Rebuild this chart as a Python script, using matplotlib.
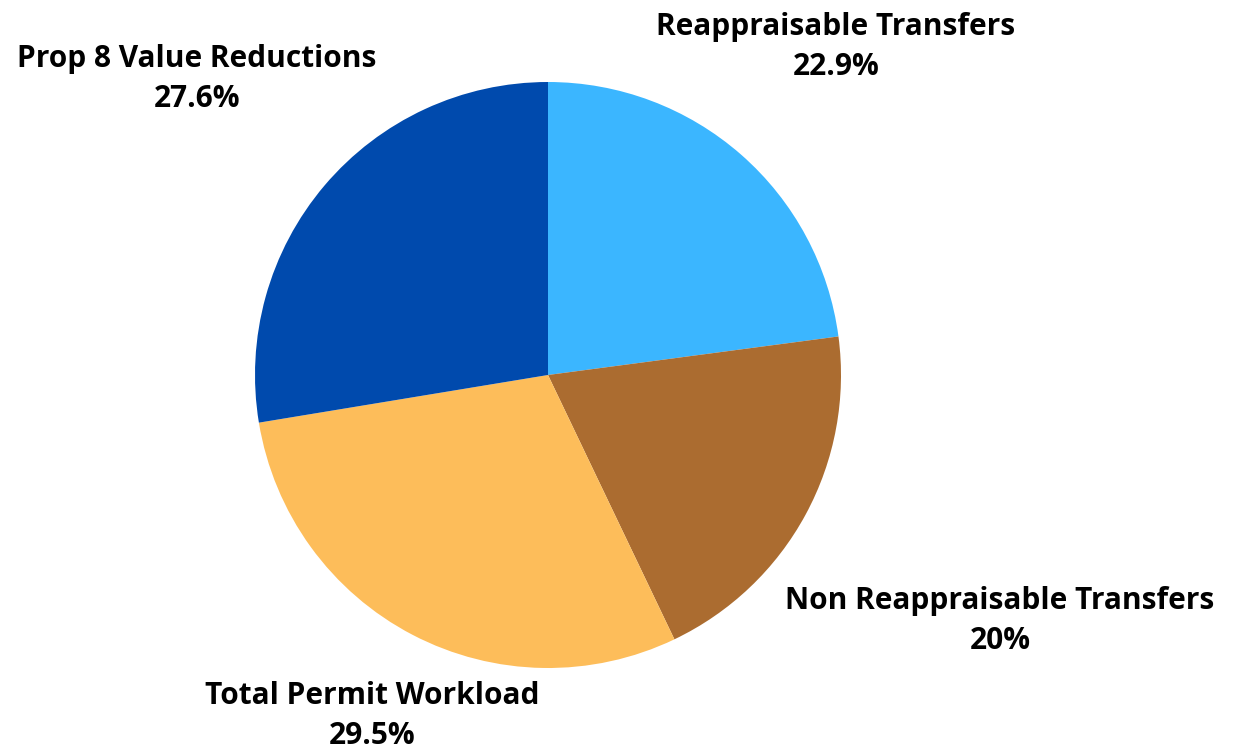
import matplotlib.pyplot as plt

categories = ['Reappraisable Transfers', 'Non Reappraisable Transfers',
              'Total Permit Workload', 'Prop 8 Value Reductions']
values = [22.9, 20.0, 29.5, 27.6]
pct_labels = ['22.9%', '20%', '29.5%', '27.6%']
colors = ['#3bb6ff', '#ab6c30', '#fdbd5a', '#004aad']

plt.rcParams['font.family'] = ['Open Sans', 'DejaVu Sans']

fig = plt.figure(figsize=(12.44, 7.52), dpi=100)
# pie centre ~ (548, 375) px, radius ~ 293 px
cx, cy, r = 548, 375, 293
W, H = 1244, 752
ax = fig.add_axes([(cx - r) / W, (H - cy - r) / H, 2 * r / W, 2 * r / H])

ax.pie(values, colors=colors, startangle=90, counterclock=False, radius=1,
       wedgeprops=dict(linewidth=0))
ax.set_xlim(-1, 1)
ax.set_ylim(-1, 1)
ax.set_aspect('equal')
ax.axis('off')

# label centres in pixels
label_px = [(836, 47), (1000, 621), (372, 716), (197, 79)]
for name, pct, (px, py) in zip(categories, pct_labels, label_px):
    ax.text((px - cx) / r, (cy - py) / r, f'{name}\n{pct}', ha='center', va='center',
            fontsize=21.5, fontweight='bold', linespacing=1.45, color='black')

fig.savefig('out.png', dpi=100)
